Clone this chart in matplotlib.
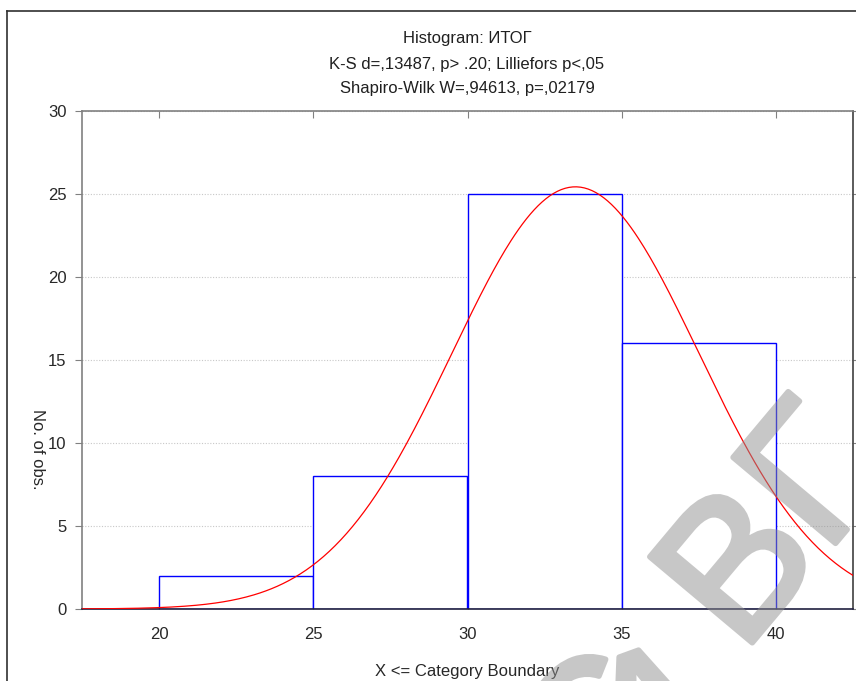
import numpy as np
import matplotlib
matplotlib.use('Agg')
import matplotlib.pyplot as plt
import matplotlib.patheffects as pe
from matplotlib.lines import Line2D

plt.rcParams['font.family'] = ['Liberation Sans', 'DejaVu Sans']

# histogram data (upper category boundaries and counts)
bin_edges = [20, 25, 30, 35, 40]
counts = [2, 8, 25, 16]
# fitted normal curve parameters
fit_mean = 33.5
fit_sd = 4.0

title_lines = ['Histogram: ИТОГ',
               'K-S d=,13487, p> .20; Lilliefors p<,05',
               'Shapiro-Wilk W=,94613, p=,02179']
x_ticks = [20, 25, 30, 35, 40]
y_ticks = [0, 5, 10, 15, 20, 25, 30]

fig = plt.figure(figsize=(8.56, 6.81), dpi=100)
ax = fig.add_axes([82/856, 1-609/681, (853-82)/856, (609-111)/681])

# bars
ax.bar(bin_edges[:-1], counts, width=np.diff(bin_edges), align='edge',
       facecolor='white', edgecolor='#0000ff', linewidth=1.0, zorder=2)

# expected normal
n = sum(counts)
w = bin_edges[1] - bin_edges[0]
xs = np.linspace(17.5, 42.5, 400)
ys = n * w * np.exp(-(xs - fit_mean)**2 / (2*fit_sd**2)) / (fit_sd*np.sqrt(2*np.pi))
ax.plot(xs, ys, color='#ff0000', linewidth=0.9, zorder=3)

ax.set_xlim(17.5, 42.5)
ax.set_ylim(0, 30)
ax.set_xticks(x_ticks)
ax.set_yticks(y_ticks)
ax.yaxis.grid(True, linestyle=(0, (1, 1.5)), color='#c8c8c8', linewidth=0.8)
ax.set_axisbelow(True)

ax.tick_params(axis='y', which='both', direction='out', length=5, color='#808080',
               labelsize=12, labelcolor='#282828', right=True, pad=6)
ax.tick_params(axis='x', which='both', direction='in', length=5, color='#808080',
               labelsize=12, labelcolor='#282828', top=True, pad=13)

ax.spines['left'].set_color('#808080')
ax.spines['top'].set_color('#808080')
ax.spines['bottom'].set_color('#202040')
ax.spines['right'].set_color('#404040')
for s in ax.spines.values():
    s.set_linewidth(1.2)

ax.set_xlabel('X <= Category Boundary', fontsize=12, color='#282828', labelpad=16)
ax.set_ylabel('No. of obs.', fontsize=12, color='#282828', rotation=270,
              labelpad=0)
ax.yaxis.set_label_coords(-0.068, 0.32)

for i, line in enumerate(title_lines):
    fig.text(467/856, 1-(39+25*i)/681, line, ha='center', va='center',
             fontsize=12, color='#202020')

# outer frame (screenshot border)
fig.add_artist(Line2D([7/856, 7/856], [0, 1-11/681], color='#303030', linewidth=1.2))
fig.add_artist(Line2D([7/856, 1], [1-11/681, 1-11/681], color='#303030', linewidth=1.2))

# watermark: drawn opaque with a thickening stroke, then faded as one layer
def fade(im, dpi):
    im = im.copy()
    im[..., 3] *= 0.5
    return im, 0, 0

wm = dict(color='#909090', zorder=10, fontsize=140, rotation_mode='anchor',
          path_effects=[pe.withStroke(linewidth=4, foreground='#909090')])
wm_texts = [
    fig.text(742/856, 1-655/681, 'ВГ', rotation=50, ha='left', va='baseline', **wm),
    fig.text(606/856, 1-740/681, 'С', rotation=50, ha='center', va='center', **wm),
    fig.text(626/856, 1-647/681, 'А', rotation=20, ha='center', va='top', **wm),
]
for t in wm_texts:
    t.set_agg_filter(fade)

fig.savefig('out.png', dpi=100)
